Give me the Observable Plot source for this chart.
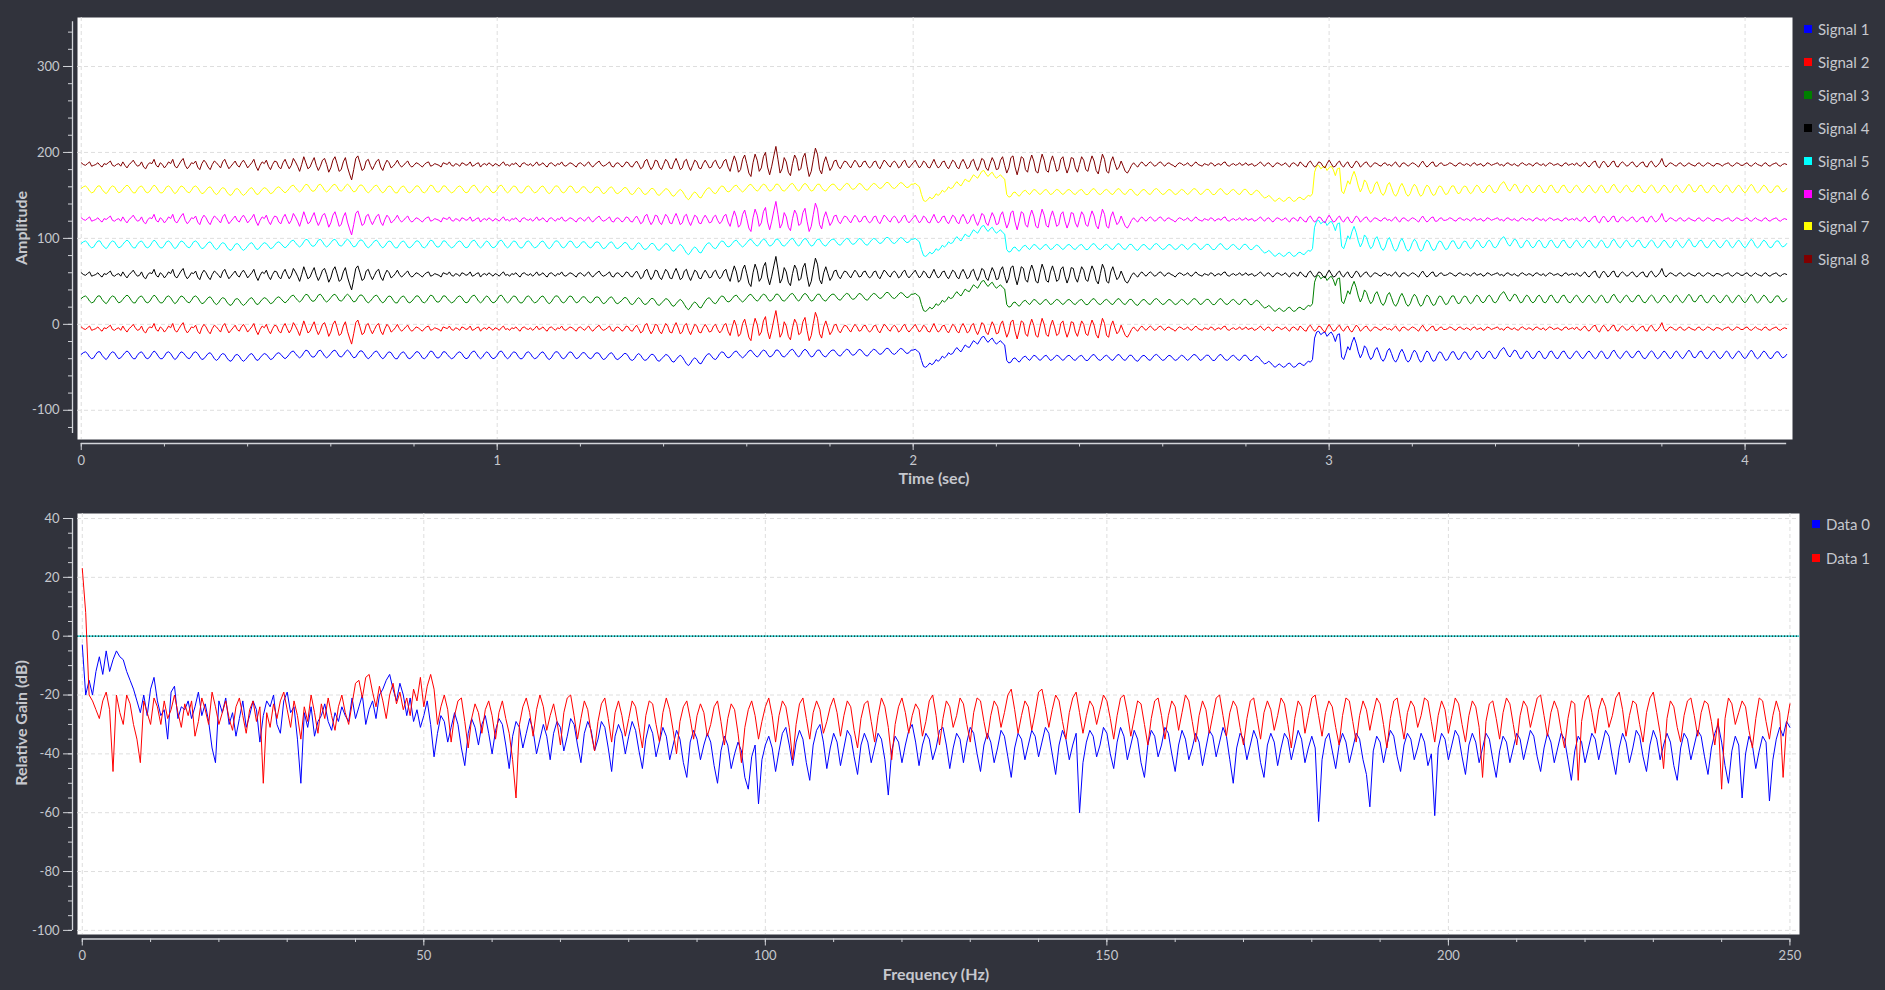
<!DOCTYPE html>
<html>
<head>
<meta charset="utf-8">
<script src="https://cdn.jsdelivr.net/npm/d3@7"></script>
<script src="https://cdn.jsdelivr.net/npm/@observablehq/plot@0.6"></script>
<style>
  html, body { margin: 0; padding: 0; background: #31333c; }
  #wrap { position: relative; width: 1885px; height: 990px; overflow: hidden; font-family: Lato, "Noto Sans", sans-serif; color: #c6c8ce; }
  .panel { position: absolute; left: 0; }
  .legend { position: absolute; font-size: 15px; color: #c6c8ce; }
  .legend .row { position: absolute; left: 0; display: flex; align-items: center; height: 20px; white-space: nowrap; transform: translateY(-50%); }
  .legend .sw { display: inline-block; width: 8px; height: 8px; margin-right: 6px; }
  .title { position: absolute; font-size: 16px; font-weight: bold; color: #c6c8ce; white-space: nowrap; transform: translate(-50%, -50%); }
  .title.rot { transform: translate(-50%, -50%) rotate(-90deg); }
</style>
</head>
<body>
<div id="wrap"></div>
<script>
// ---------- data ----------
const signalNames = ["Signal 1", "Signal 2", "Signal 3", "Signal 4", "Signal 5", "Signal 6", "Signal 7", "Signal 8"];
const signalColors = ["#0000ff", "#ff0000", "#008000", "#000000", "#00ffff", "#ff00ff", "#ffff00", "#800000"];
const signalOffsets = [-36, -5, 29, 58, 93, 122, 157, 186];
const timeStep = 0.005; // seconds between samples

// shape of the odd signals (1, 3, 5, 7), read relative to their level
const waveOdd = [
  1,3,4,2,-2,-4,-3,1,4,4,0,-3,-5,-2,2,4,3,-1,-4,-3,
  0,3,5,3,-1,-4,-4,0,3,4,1,-3,-4,-2,2,5,3,-1,-4,-4,
  -1,3,4,2,-2,-5,-3,1,4,3,0,-3,-4,-1,3,4,2,-2,-5,-4,
  -1,2,3,0,-4,-6,-4,0,2,1,-3,-6,-7,-4,0,1,-1,-5,-7,-5,
  -2,1,2,-1,-5,-6,-3,0,2,1,-2,-5,-4,-1,2,3,1,-2,-4,-2,
  1,4,5,2,-1,-3,-1,3,6,5,1,-2,-2,1,5,6,3,-1,-3,-1,
  2,5,6,3,-1,-2,0,4,6,4,0,-3,-2,2,5,5,2,-2,-4,-2,
  1,4,5,2,-2,-4,-2,2,4,3,-1,-4,-4,0,3,4,1,-3,-4,-2,
  1,4,4,1,-3,-4,-2,2,5,4,0,-3,-3,0,4,4,1,-2,-4,-3,
  0,3,4,2,-2,-4,-3,1,4,5,2,-2,-4,-2,2,4,2,-2,-4,-3,
  0,4,5,2,-2,-4,-2,2,4,3,-1,-4,-4,-1,3,4,2,-2,-4,-3,
  0,3,4,1,-3,-5,-3,1,4,4,1,-3,-4,-2,2,4,3,-1,-4,-3,
  0,3,3,0,-3,-4,-2,2,3,2,-2,-5,-4,-1,2,3,0,-4,-5,-3,
  -1,2,2,-1,-5,-6,-4,0,2,0,-4,-6,-5,-2,1,1,-2,-6,-7,-4,
  -2,1,0,-3,-7,-8,-5,-2,0,-2,-6,-10,-12,-9,-5,-3,-5,-9,-10,-6,
  -2,1,2,-1,-4,-5,-2,2,4,3,-1,-3,-2,1,4,5,2,-1,-3,-1,
  2,5,6,3,0,-2,0,4,6,5,1,-2,-1,2,6,6,3,-1,-2,0,
  3,6,7,4,0,-2,1,5,7,5,1,-2,-1,3,6,6,2,-1,-2,1,
  4,6,6,3,0,-1,2,5,7,6,2,0,1,4,7,6,3,0,-1,2,
  5,7,6,3,1,2,5,8,8,5,2,1,3,6,8,7,4,2,3,6,
  6,7,5,3,-6,-13,-14,-12,-9,-11,-9,-5,-7,-5,-1,-3,-1,3,1,2,
  6,9,6,4,8,12,10,9,13,17,15,13,17,21,22,18,15,18,20,16,
  13,15,17,14,12,-6,-9,-8,-4,-3,-6,-8,-5,-2,-1,-4,-6,-3,0,-1,
  -4,-6,-4,-1,0,-3,-6,-5,-2,0,-1,-4,-6,-4,-1,0,-2,-5,-6,-3,
  -1,0,-3,-6,-6,-3,0,1,-2,-5,-6,-4,-1,0,-2,-5,-6,-3,0,1,
  -2,-5,-6,-3,0,0,-3,-6,-7,-4,-1,0,-2,-5,-6,-3,0,1,-1,-4,
  -6,-5,-2,0,-1,-4,-6,-5,-2,0,-1,-4,-6,-4,-1,1,0,-3,-6,-5,
  -2,0,0,-3,-6,-6,-3,0,1,-2,-5,-6,-4,-1,0,-2,-5,-6,-3,0,
  0,-3,-6,-6,-3,-1,-2,-5,-8,-10,-9,-7,-9,-12,-14,-12,-10,-12,-14,-13,
  -10,-9,-12,-14,-13,-10,-9,-11,-12,-9,-7,-8,-5,20,27,28,24,26,27,22,
  25,27,23,16,24,25,-2,-5,2,10,6,15,21,14,4,-3,2,11,8,0,
  -5,-2,6,9,3,-4,-7,-3,5,8,2,-5,-8,-4,3,7,2,-5,-8,-5,
  2,6,3,-4,-8,-6,1,5,3,-3,-7,-6,0,4,3,-2,-6,-5,0,4,
  4,-1,-5,-4,1,4,3,-2,-5,-3,2,5,3,-2,-4,-2,3,5,2,-3,
  -4,-1,4,7,9,5,0,-2,2,6,5,0,-4,-3,2,5,3,-2,-4,-2,
  3,5,2,-3,-4,-1,4,5,1,-3,-4,0,4,5,1,-3,-4,-1,3,5,
  2,-2,-4,-1,3,5,2,-2,-4,-2,3,5,2,-3,-4,-1,4,6,2,-2,
  -4,-1,3,5,2,-2,-3,0,4,5,1,-3,-4,-1,3,5,3,-2,-4,-2,
  2,5,3,-1,-4,-2,3,5,2,-2,-4,-1,3,6,3,-2,-3,0,4,5,
  1,-3,-4,-1,3,5,2,-2,-4,-2,2,5,3,-2,-4,-1,3,5,2,-2,
  -4,-1,3,6,3,-2,-4,-2,2,5,3,-1,-4,-3,1,4,4,0,-3,-2,
  1
];

// shape of the even signals (2, 4, 6, 8), read relative to their level
const waveEven = [
  2,0,-1,1,3,-2,-1,0,2,-1,-3,1,0,2,4,-1,-2,0,1,-2,
  3,-1,-4,0,2,5,1,-2,-1,3,-3,-5,0,2,1,6,-1,-3,2,0,
  -4,-1,3,1,6,-2,-4,0,4,7,-1,-5,-2,2,1,4,-3,-6,1,5,
  2,-3,-6,0,4,2,-1,-4,3,6,0,-5,-2,1,4,-1,-3,2,5,1,
  -4,-1,2,6,-2,-7,-1,3,1,5,-2,-6,0,4,3,-3,-5,2,6,0,
  -5,-1,7,3,-2,-8,0,9,2,-5,-3,3,8,-1,-7,-2,5,7,0,-9,
  -4,5,9,1,-8,-6,3,8,-3,-11,-18,-6,7,10,2,-7,-5,4,6,-1,
  -6,-1,4,6,-3,-7,0,5,2,-4,-2,1,5,0,-3,-1,2,4,-1,-3,
  -1,2,1,-1,-3,0,2,3,-2,-1,1,0,-1,-3,2,1,0,3,-1,-2,
  1,0,-2,2,1,-1,0,3,-2,-1,1,2,-3,0,1,-1,2,0,-2,1,
  0,-2,1,3,-1,0,-2,1,0,2,-1,-3,1,2,0,-1,1,-2,0,3,
  -1,0,2,-1,-3,1,2,0,-2,1,0,3,-1,-2,0,2,1,-1,-3,1,
  2,0,-2,1,3,-1,-3,0,2,4,0,-2,-1,1,3,-2,-3,1,2,0,
  -3,-1,3,2,-2,-3,1,4,0,-5,-3,4,6,-1,-6,-2,5,4,-3,-6,
  0,6,3,-4,-5,2,7,1,-6,-4,4,6,-2,-7,-1,5,3,-4,-5,1,
  5,1,-4,-3,3,5,-1,-5,-2,4,6,-3,-8,2,10,3,-9,-6,6,11,
  1,-10,-14,2,12,5,-8,-4,9,14,-3,-12,-2,10,21,6,-10,-5,8,3,
  -9,-13,1,11,6,-7,-5,8,13,-2,-14,-8,6,19,12,-6,-11,2,9,1,
  -7,-3,4,5,-2,-5,0,4,3,-1,-4,1,5,2,-3,-2,3,4,-1,-4,
  -2,3,4,-2,-5,0,5,3,-1,-3,2,4,1,-4,-2,3,5,-1,-4,-1,
  2,5,0,-4,-1,4,2,-3,-4,1,6,0,-4,-2,3,4,-2,-5,0,5,
  3,-3,-5,2,6,1,-5,-3,4,6,-2,-7,-1,7,5,-4,-7,1,8,3,
  -6,-5,5,9,-1,-10,-4,8,10,-3,-12,-2,9,7,-6,-9,3,11,4,-8,
  -10,2,12,5,-7,-9,3,10,2,-8,-6,6,9,-2,-10,-3,8,7,-4,-9,
  0,9,5,-6,-8,2,10,4,-7,-11,1,12,6,-8,-10,3,9,1,-6,-3,
  4,-2,-8,-10,-6,-1,2,-1,-3,1,3,0,-2,1,3,1,-2,-1,2,3,
  0,-2,1,2,0,-1,-3,0,2,1,-1,0,2,-1,-2,1,3,0,-1,-2,
  1,0,-1,2,1,-2,0,1,-1,2,3,-1,-2,0,1,-1,0,2,-1,0,
  2,-1,0,1,-2,-1,1,3,0,-2,1,2,-1,-3,0,2,1,-1,0,2,
  -1,-3,1,2,0,-2,3,1,-2,-3,2,4,0,-3,-1,3,2,-2,-4,1,
  5,1,-3,-2,2,4,-1,-3,1,3,-2,-4,0,4,2,-3,-1,2,3,-1,
  -3,0,2,1,-1,-2,1,2,-1,0,-2,1,3,-1,-3,1,2,0,-2,0,
  2,1,-1,-3,1,4,0,-3,-1,2,3,-2,-2,1,2,-1,-1,0,2,1,
  -1,-2,1,2,0,-1,1,0,-2,1,2,-1,0,1,-2,-1,2,1,-1,0,
  1,2,-1,0,-2,1,2,0,-1,1,-1,-2,1,2,0,-1,1,0,-2,1,
  2,0,-1,1,-2,0,2,1,-1,0,1,-1,-2,1,2,-1,0,1,-1,2,
  -1,-2,1,3,-1,-3,0,3,4,-2,-4,1,4,1,-3,-1,3,4,-2,-3,
  1,3,1,-2,-1,2,3,-1,-3,0,2,3,-2,-3,2,4,0,-3,-1,2,
  7,0,-3,0,2,1,-1,-2,1,2,-1,-2,0,2,0,-1,-2,1,2,-1,
  -2,0,2,1,-1,-2,1,1,0,-2,0,1,2,-1,-2,0,2,1,-1,-1,
  1,2,-1,-2,0,2,0,-1,-2,1,2,-1,-2,0,1,2,-1,-2,0,1,
  0
];

const gainNames = ["Data 0", "Data 1"];
const gainColors = ["#0000ff", "#ff0000"];
const freqStep = 0.5; // Hz between samples

const gainData0 = [
  -3,-20,-15,-20,-12,-7,-13,-5,-12,-8,-5,-7,-8,-12,-15,-18,-22,-26,-20,-27,
  -18,-14,-22,-27,-25,-35,-19,-17,-28,-24,-25,-22,-28,-24,-19,-27,-23,-29,-38,-43,
  -22,-26,-21,-30,-26,-34,-28,-22,-31,-27,-22,-25,-36,-27,-22,-24,-20,-30,-33,-22,
  -19,-26,-24,-35,-50,-26,-31,-24,-34,-29,-27,-23,-29,-32,-26,-29,-24,-27,-29,-21,
  -28,-24,-20,-30,-25,-22,-28,-20,-18,-15,-13,-18,-22,-16,-20,-27,-21,-29,-25,-31,
  -27,-22,-30,-41,-33,-27,-29,-36,-31,-26,-30,-38,-44,-33,-28,-31,-37,-30,-27,-33,
  -40,-32,-28,-30,-37,-45,-34,-29,-31,-38,-33,-28,-32,-40,-35,-30,-34,-42,-33,-29,
  -31,-39,-34,-28,-30,-37,-43,-33,-29,-32,-39,-35,-29,-31,-38,-46,-34,-30,-33,-40,
  -34,-29,-32,-39,-45,-35,-30,-33,-41,-36,-31,-34,-42,-37,-32,-35,-43,-48,-36,-32,
  -35,-42,-37,-33,-36,-44,-50,-39,-34,-37,-45,-40,-36,-39,-48,-52,-41,-37,-57,-42,
  -37,-34,-38,-46,-39,-33,-31,-37,-44,-36,-32,-35,-43,-49,-37,-32,-30,-36,-45,-38,
  -33,-36,-44,-38,-32,-34,-41,-47,-37,-33,-36,-43,-38,-33,-35,-42,-54,-39,-34,-36,
  -43,-37,-32,-30,-36,-44,-37,-33,-35,-42,-38,-32,-31,-37,-45,-38,-33,-35,-43,-36,
  -31,-33,-40,-46,-37,-33,-36,-43,-38,-32,-34,-41,-48,-38,-33,-35,-42,-37,-32,-34,
  -41,-36,-31,-33,-40,-47,-37,-32,-35,-42,-37,-33,-60,-43,-36,-32,-34,-41,-37,-31,
  -33,-40,-45,-36,-31,-34,-42,-37,-32,-35,-43,-48,-37,-32,-34,-41,-37,-31,-33,-40,
  -46,-37,-32,-35,-42,-38,-33,-36,-44,-38,-32,-34,-41,-36,-31,-34,-42,-50,-38,-33,
  -35,-42,-37,-32,-35,-43,-48,-37,-33,-36,-44,-38,-33,-35,-42,-37,-32,-35,-43,-38,
  -34,-38,-63,-42,-35,-33,-39,-45,-37,-33,-36,-43,-38,-33,-35,-42,-47,-58,-39,-34,
  -36,-43,-37,-32,-34,-41,-46,-37,-33,-35,-42,-38,-33,-36,-44,-40,-61,-38,-33,-35,
  -42,-37,-32,-34,-41,-47,-37,-33,-36,-43,-38,-33,-35,-42,-48,-39,-34,-36,-43,-38,
  -33,-35,-42,-37,-32,-34,-41,-46,-38,-33,-36,-43,-38,-33,-35,-42,-49,-39,-34,-36,
  -43,-38,-33,-35,-42,-37,-32,-34,-41,-47,-38,-33,-36,-43,-38,-32,-34,-41,-46,-37,
  -32,-35,-42,-37,-33,-36,-44,-49,-38,-33,-35,-42,-37,-32,-34,-41,-47,-38,-33,-30,
  -36,-44,-50,-39,-34,-37,-55,-40,-34,-37,-45,-39,-34,-36,-56,-42,-35,-31,-34,-29,
  -31
];

const gainData1 = [
  23,8,-20,-22,-25,-28,-22,-19,-25,-46,-20,-26,-30,-20,-23,-30,-35,-43,-22,-26,
  -30,-21,-24,-30,-22,-28,-25,-20,-26,-31,-23,-27,-22,-34,-29,-21,-25,-30,-19,-24,
  -30,-26,-22,-28,-32,-24,-21,-27,-33,-25,-22,-29,-24,-50,-26,-31,-23,-28,-22,-19,
  -25,-31,-22,-27,-35,-24,-29,-20,-26,-33,-23,-28,-21,-27,-32,-24,-20,-26,-30,-23,
  -16,-15,-21,-14,-13,-19,-24,-17,-22,-28,-20,-16,-23,-19,-25,-21,-27,-18,-22,-14,
  -24,-17,-13,-18,-30,-24,-20,-25,-36,-27,-22,-21,-29,-38,-28,-23,-26,-33,-25,-22,
  -27,-35,-26,-22,-28,-33,-42,-55,-30,-24,-21,-26,-34,-25,-20,-24,-32,-27,-23,-29,
  -37,-26,-21,-20,-27,-35,-28,-22,-25,-33,-39,-29,-23,-21,-28,-36,-26,-22,-27,-34,
  -28,-22,-24,-31,-38,-27,-22,-23,-30,-36,-26,-21,-25,-32,-40,-29,-24,-22,-28,-35,
  -27,-23,-26,-34,-30,-24,-22,-29,-37,-28,-23,-25,-33,-43,-31,-25,-22,-27,-35,-29,
  -24,-21,-27,-36,-27,-22,-24,-31,-42,-30,-23,-21,-28,-35,-26,-22,-25,-33,-29,-24,
  -21,-26,-34,-27,-22,-24,-32,-38,-28,-23,-22,-29,-36,-27,-21,-24,-31,-42,-30,-24,
  -21,-26,-33,-27,-23,-25,-34,-29,-22,-20,-27,-37,-28,-22,-24,-31,-27,-21,-23,-30,
  -36,-26,-21,-22,-29,-35,-27,-22,-24,-31,-26,-20,-18,-25,-33,-27,-22,-24,-32,-26,
  -19,-18,-24,-31,-25,-20,-22,-29,-35,-26,-21,-19,-26,-33,-27,-22,-24,-30,-25,-20,
  -22,-28,-35,-27,-21,-20,-26,-34,-28,-22,-23,-30,-37,-28,-22,-21,-27,-35,-27,-22,
  -24,-32,-26,-20,-22,-29,-36,-27,-22,-25,-33,-27,-21,-20,-27,-34,-26,-22,-24,-31,
  -37,-28,-22,-21,-28,-35,-26,-22,-25,-32,-27,-21,-23,-30,-38,-28,-22,-24,-33,-27,
  -21,-20,-27,-34,-26,-22,-24,-31,-37,-27,-21,-22,-29,-36,-27,-22,-25,-32,-26,-21,
  -23,-30,-38,-28,-22,-21,-28,-35,-26,-22,-24,-31,-27,-21,-22,-29,-36,-27,-22,-25,
  -33,-27,-21,-23,-30,-36,-27,-22,-24,-31,-48,-29,-23,-22,-28,-35,-26,-21,-23,-30,
  -37,-27,-22,-24,-31,-26,-21,-20,-27,-34,-26,-22,-25,-32,-38,-28,-22,-23,-49,-29,
  -22,-20,-26,-33,-25,-21,-24,-31,-27,-21,-19,-25,-34,-27,-22,-23,-30,-36,-26,-21,
  -19,-26,-33,-45,-28,-22,-24,-31,-36,-27,-22,-21,-27,-34,-26,-22,-23,-29,-37,-28,
  -52,-28,-21,-23,-30,-26,-22,-24,-32,-38,-28,-21,-22,-29,-35,-27,-22,-26,-48,-30,
  -23
];
const gainReference = [0];

// axis ticks and ranges
const timeDomain = [-0.009, 4.114];
const ampDomain = [-134, 357];
const ampAxisSpan = [-127, 352];
const timeMajor = [0, 1, 2, 3, 4];
const timeMinor = d3.range(0, 4.11, 0.2);
const ampMajor = [-100, 0, 100, 200, 300];
const ampMinor = d3.range(-120, 341, 20);

const freqDomain = [-0.7, 251.4];
const gainDomain = [-101.4, 41.7];
const gainAxisSpan = [-100, 40];
const freqMajor = [0, 50, 100, 150, 200, 250];
const freqMinor = d3.range(0, 251, 10);
const gainMajor = [40, 20, 0, -20, -40, -60, -80, -100];
const gainMinor = d3.range(-100, 41, 5);

// ---------- build tables ----------
const timeSamples = signalNames.flatMap((name, k) =>
  (k % 2 === 0 ? waveOdd : waveEven).map((d, i) => ({series: name, t: i * timeStep, v: signalOffsets[k] + d}))
);
const timeEnd = d3.max(timeSamples, d => d.t);
const gainSamples = [gainData0, gainData1].flatMap((arr, k) =>
  arr.map((d, i) => ({series: gainNames[k], f: i * freqStep, g: d}))
);
const freqEnd = d3.max(gainSamples, d => d.f);

const textColor = "#c6c8ce";
const axisColor = "#d2d4d9";
const gridColor = "#dedede";
const baseStyle = {background: "transparent", color: textColor, fontFamily: "Lato, 'Noto Sans', sans-serif", fontSize: "13px"};

const wrap = document.getElementById("wrap");

const timeChart = Plot.plot({
  width: 1800, height: 496,
  marginTop: 17, marginLeft: 77, marginRight: 8, marginBottom: 57,
  style: baseStyle,
  x: {domain: timeDomain},
  y: {domain: ampDomain},
  color: {domain: signalNames, range: signalColors},
  marks: [
    Plot.frame({fill: "white", stroke: null}),
    Plot.gridX({ticks: timeMajor, stroke: gridColor, strokeOpacity: 1, strokeDasharray: "4,3"}),
    Plot.gridY({ticks: ampMajor, stroke: gridColor, strokeOpacity: 1, strokeDasharray: "4,3"}),
    Plot.line(timeSamples, {x: "t", y: "v", z: "series", stroke: "series", strokeWidth: 1, clip: true}),
    Plot.ruleX([timeDomain[0]], {y1: ampAxisSpan[0], y2: ampAxisSpan[1], dx: -5, stroke: axisColor, strokeWidth: 1.3}),
    Plot.ruleY([ampDomain[0]], {x1: 0, x2: timeEnd, dy: 4, stroke: axisColor, strokeWidth: 1.3}),
    Plot.axisY({ticks: ampMinor, tickSize: 4, tickFormat: () => "", dx: -5, label: null, stroke: axisColor}),
    Plot.axisY({ticks: ampMajor, tickSize: 9, tickPadding: 4, tickFormat: d => String(d), dx: -5, label: null, stroke: axisColor}),
    Plot.axisX({ticks: timeMinor, tickSize: 3.5, tickFormat: () => "", dy: 4, label: null, stroke: axisColor}),
    Plot.axisX({ticks: timeMajor, tickSize: 7, tickPadding: 5, tickFormat: d => String(d), dy: 4, label: null, stroke: axisColor})
  ]
});

const gainChart = Plot.plot({
  width: 1805, height: 494,
  marginTop: 17, marginLeft: 77, marginRight: 6, marginBottom: 56,
  style: baseStyle,
  x: {domain: freqDomain},
  y: {domain: gainDomain},
  color: {domain: gainNames, range: gainColors},
  marks: [
    Plot.frame({fill: "white", stroke: null}),
    Plot.gridX({ticks: freqMajor, stroke: gridColor, strokeOpacity: 1, strokeDasharray: "4,3"}),
    Plot.gridY({ticks: gainMajor, stroke: gridColor, strokeOpacity: 1, strokeDasharray: "4,3"}),
    Plot.ruleY(gainReference, {stroke: "#00c4c4", strokeWidth: 1.3}),
    Plot.ruleY(gainReference, {stroke: "#1a1a1a", strokeWidth: 1.3, strokeDasharray: "1,2"}),
    Plot.line(gainSamples, {x: "f", y: "g", z: "series", stroke: "series", strokeWidth: 1, clip: true}),
    Plot.ruleX([freqDomain[0]], {y1: gainAxisSpan[0], y2: gainAxisSpan[1], dx: -5, stroke: axisColor, strokeWidth: 1.3}),
    Plot.ruleY([gainDomain[0]], {x1: 0, x2: freqEnd, dy: 4.5, stroke: axisColor, strokeWidth: 1.3}),
    Plot.axisY({ticks: gainMinor, tickSize: 4, tickFormat: () => "", dx: -5, label: null, stroke: axisColor}),
    Plot.axisY({ticks: gainMajor, tickSize: 9, tickPadding: 4, tickFormat: d => String(d), dx: -5, label: null, stroke: axisColor}),
    Plot.axisX({ticks: freqMinor, tickSize: 3.5, tickFormat: () => "", dy: 4.5, label: null, stroke: axisColor}),
    Plot.axisX({ticks: freqMajor, tickSize: 7, tickPadding: 5, tickFormat: d => String(d), dy: 4.5, label: null, stroke: axisColor})
  ]
});

function addPanel(svg, top) {
  const div = document.createElement("div");
  div.className = "panel";
  div.style.top = top + "px";
  div.appendChild(svg);
  wrap.appendChild(div);
}
addPanel(timeChart, 0);
addPanel(gainChart, 496);

function addLegend(names, colors, left, top, spacing) {
  const lg = document.createElement("div");
  lg.className = "legend";
  lg.style.left = left + "px";
  lg.style.top = top + "px";
  names.forEach((n, i) => {
    const row = document.createElement("div");
    row.className = "row";
    row.style.top = (i * spacing) + "px";
    const sw = document.createElement("span");
    sw.className = "sw";
    sw.style.background = colors[i];
    row.appendChild(sw);
    row.appendChild(document.createTextNode(n));
    lg.appendChild(row);
  });
  wrap.appendChild(lg);
}
addLegend(signalNames, signalColors, 1804, 29, 32.9);
addLegend(gainNames, gainColors, 1812, 524, 33.5);

function addTitle(text, x, y, rotated) {
  const t = document.createElement("div");
  t.className = "title" + (rotated ? " rot" : "");
  t.style.left = x + "px";
  t.style.top = y + "px";
  t.textContent = text;
  wrap.appendChild(t);
}
addTitle("Amplitude", 20, 228, true);
addTitle("Time (sec)", 934, 477, false);
addTitle("Relative Gain (dB)", 20, 723, true);
addTitle("Frequency (Hz)", 936, 973, false);
</script>
</body>
</html>
